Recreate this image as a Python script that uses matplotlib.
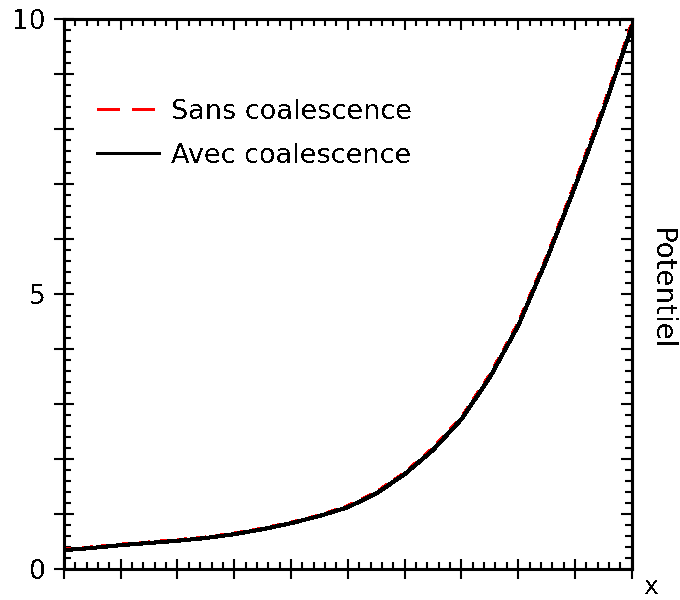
import matplotlib.pyplot as plt
from matplotlib.lines import Line2D
from matplotlib.ticker import MultipleLocator

plt.rcParams['font.family'] = ['DejaVu Sans']
plt.rcParams['lines.antialiased'] = False
plt.rcParams['text.antialiased'] = False

# potential vs x, with and without coalescence
x = [0, 0.5, 1, 1.5, 2, 2.5, 3, 3.5, 4, 4.5, 5, 5.5, 6, 6.5, 7, 7.5, 8, 8.5, 9, 9.5, 10]
sans_coal = [0.35, 0.39, 0.44, 0.48, 0.52, 0.57, 0.64, 0.73, 0.84, 0.97, 1.14, 1.39, 1.74, 2.19, 2.75, 3.52, 4.46, 5.66, 7.0, 8.4, 9.9]
avec_coal = [0.34, 0.38, 0.43, 0.47, 0.51, 0.56, 0.63, 0.72, 0.83, 0.96, 1.12, 1.37, 1.72, 2.16, 2.72, 3.48, 4.42, 5.62, 6.95, 8.35, 9.85]
labels = ['Sans coalescence', 'Avec coalescence']
ytick_labels = ['0', '5', '10']

fig = plt.figure(figsize=(6.8, 6.0), dpi=100)
ax = fig.add_axes([0.094, 0.052, 0.835, 0.916])

ax.plot(x, sans_coal, color='red', lw=2.2, ls=(0, (3, 3)), zorder=2)
ax.plot(x, avec_coal, color='black', lw=2.2, zorder=3)

ax.set_xlim(0, 10)
ax.set_ylim(0, 10)

for s in ax.spines.values():
    s.set_linewidth(2.2)

ax.xaxis.set_major_locator(MultipleLocator(1))
ax.xaxis.set_minor_locator(MultipleLocator(0.2))
ax.yaxis.set_major_locator(MultipleLocator(1))
ax.yaxis.set_minor_locator(MultipleLocator(0.2))
ax.set_xticklabels([])
ax.yaxis.set_major_formatter(plt.FuncFormatter(
    lambda v, p: ytick_labels[int(round(v)) // 5] if int(round(v)) % 5 == 0 else ''))

ax.tick_params(which='major', direction='inout', length=14, width=1.5)
ax.tick_params(which='minor', direction='in', length=5, width=1.5)
ax.tick_params(axis='y', which='major', labelsize=19, pad=6)

# mirrored ticks on top and right, pointing inward
top = ax.secondary_xaxis('top')
top.xaxis.set_major_locator(MultipleLocator(1))
top.xaxis.set_minor_locator(MultipleLocator(0.2))
top.tick_params(which='major', direction='in', length=8, width=1.5, labeltop=False)
top.tick_params(which='minor', direction='in', length=5, width=1.5)
right = ax.secondary_yaxis('right')
right.yaxis.set_major_locator(MultipleLocator(1))
right.yaxis.set_minor_locator(MultipleLocator(0.2))
right.tick_params(which='major', direction='in', length=8, width=1.5, labelright=False)
right.tick_params(which='minor', direction='in', length=5, width=1.5)
for sa in (top, right):
    for s in sa.spines.values():
        s.set_linewidth(2.2)

handles = [Line2D([], [], color='red', lw=1.8, ls=(0, (9, 5))),
           Line2D([], [], color='black', lw=2.0)]
ax.legend(handles, labels, loc='upper left', bbox_to_anchor=(0.015, 0.9), frameon=False,
          fontsize=19.5, handlelength=2.3, handletextpad=0.45, labelspacing=0.68)

fig.text(0.972, 0.518, 'Potentiel', rotation=270, ha='center', va='center', fontsize=20)
fig.text(0.958, 0.022, 'x', ha='center', va='center', fontsize=18)

fig.savefig('out.png', dpi=100)
